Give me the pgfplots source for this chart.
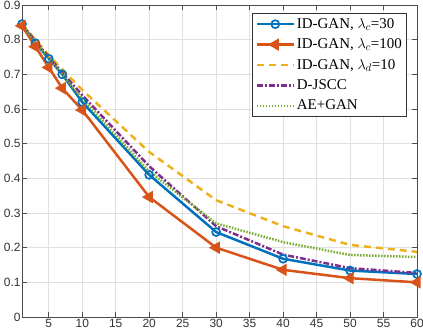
\documentclass[border=0pt]{standalone}
\usepackage{pgfplots}
\pgfplotsset{compat=1.18}
\usepackage{fontspec}
\setmainfont{Liberation Serif}
\newfontfamily\ticksans{Liberation Sans}
\definecolor{mblue}{rgb}{0,0.447,0.741}
\definecolor{mred}{rgb}{0.85,0.325,0.098}
\definecolor{myellow}{rgb}{0.929,0.694,0.125}
\definecolor{mpurple}{rgb}{0.494,0.184,0.556}
\definecolor{mgreen}{rgb}{0.466,0.674,0.188}
\begin{document}
\begin{tikzpicture}
\begin{axis}[
  scale only axis, width=395bp, height=312bp,
  xmin=1, xmax=60, ymin=0, ymax=0.9,
  xtick={5,10,...,60},
  ytick={0,0.1,...,0.9},
  yticklabel style={/pgf/number format/fixed},
  /pgf/number format/assume math mode=true,
  ticklabel style={font=\ticksans\fontsize{12}{13}\selectfont, text=black!80},
  tick align=inside,
  major tick length=5bp,
  tick style={black!70, line width=0.6pt},
  axis line style={black!70, line width=0.7pt},
  grid=major,
  grid style={black!12, line width=0.7pt},
  yticklabel style={xshift=2bp},
  xticklabel style={yshift=1bp},
  legend style={at={(0.975,0.974)}, anchor=north east, draw=black!80, line width=0.7pt,
    font=\fontsize{15}{16}\selectfont, row sep=5pt, inner sep=3pt, cells={anchor=west}},
  legend cell align=left,
  legend image code/.code={\draw[mark repeat=2,mark phase=2] plot coordinates {(0cm,0cm)(0.65cm,0cm)(1.3cm,0cm)};},
]
\addplot[mblue, line width=2.5pt, mark=o, mark size=4pt, mark options={solid, line width=1.7pt}]
 coordinates {(1,0.845)(3,0.79)(5,0.745)(7,0.70)(10,0.62)(20,0.41)(30,0.245)(40,0.168)(50,0.134)(60,0.124)};
\addlegendentry{ID-GAN, $\lambda_c$=30}
\addplot[mred, line width=2.5pt, mark=triangle*, mark size=4.8pt, mark options={solid, rotate=90, fill=mred}]
 coordinates {(1,0.84)(3,0.78)(5,0.72)(7,0.66)(10,0.597)(20,0.346)(30,0.20)(40,0.136)(50,0.112)(60,0.10)};
\addlegendentry{ID-GAN, $\lambda_c$=100}
\addplot[myellow, line width=2.5pt, dash pattern=on 7pt off 5pt]
 coordinates {(1,0.845)(3,0.80)(5,0.755)(7,0.715)(10,0.655)(20,0.476)(30,0.337)(40,0.262)(50,0.208)(60,0.188)};
\addlegendentry{ID-GAN, $\lambda_d$=10}
\addplot[mpurple, line width=2.5pt, dash pattern=on 6pt off 2pt on 2pt off 2pt]
 coordinates {(1,0.845)(3,0.795)(5,0.75)(7,0.705)(10,0.64)(20,0.435)(30,0.262)(40,0.18)(50,0.141)(60,0.127)};
\addlegendentry{D-JSCC}
\addplot[mgreen, line width=2.5pt, dash pattern=on 1.5pt off 1.5pt]
 coordinates {(1,0.845)(3,0.79)(5,0.745)(7,0.70)(10,0.63)(20,0.42)(30,0.27)(40,0.216)(50,0.179)(60,0.173)};
\addlegendentry{AE+GAN}
\end{axis}
\pgfresetboundingbox
\path ([xshift=-22bp,yshift=-17bp]current axis.south west) rectangle ([xshift=6bp,yshift=5bp]current axis.north east);
\end{tikzpicture}
\end{document}
